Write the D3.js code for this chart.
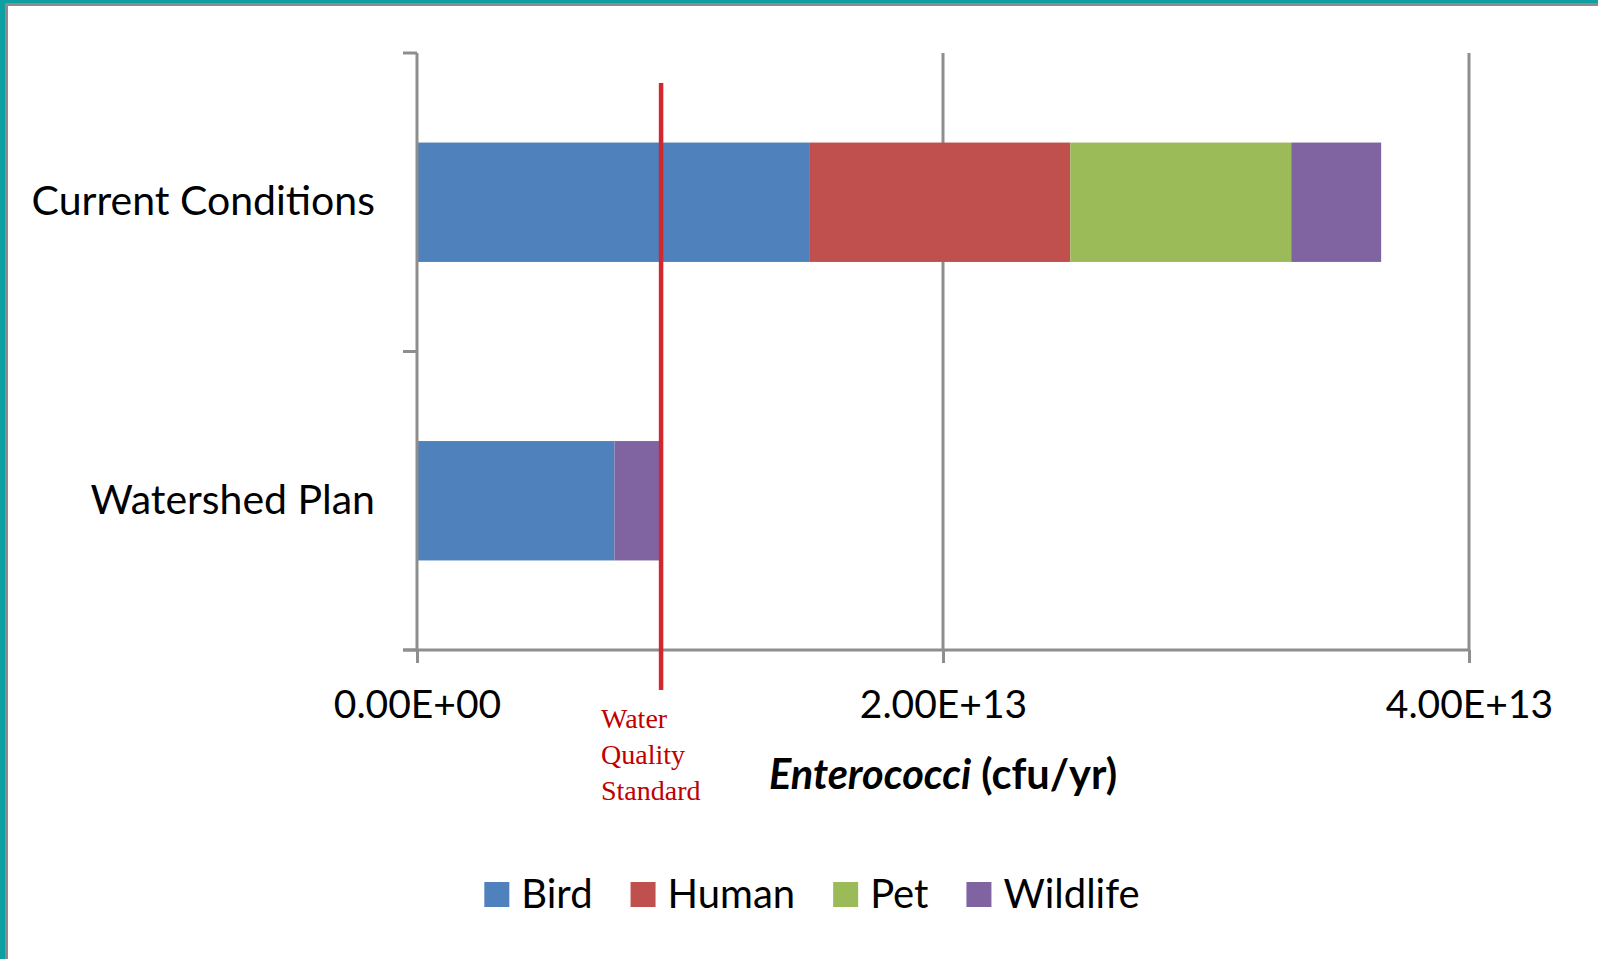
<!DOCTYPE html>
<html><head><meta charset="utf-8">
<script src="https://cdn.jsdelivr.net/npm/d3@7"></script>
<style>body{margin:0;background:#fff}svg{display:block}</style>
</head><body>
<script>
const categories = ["Current Conditions", "Watershed Plan"];
const seriesNames = ["Bird", "Human", "Pet", "Wildlife"];
const bird = [1.494e13, 0.751e13];
const human = [0.99e13, 0];
const pet = [0.84e13, 0];
const wildlife = [0.342e13, 0.173e13];
const xTicks = [0, 2e13, 4e13];
const xTickLabels = ["0.00E+00", "2.00E+13", "4.00E+13"];
const standardValue = 0.928e13;
const standardLabel = ["Water", "Quality", "Standard"];
const colors = ["#4F81BD", "#C0504D", "#9BBB59", "#8064A2"];

const W = 1598, H = 959;
const svg = d3.select("body").append("svg").attr("width", W).attr("height", H);
const font = "Lato, 'Open Sans', sans-serif";

// frame
svg.append("rect").attr("x",0).attr("y",0).attr("width",W).attr("height",3).attr("fill","#0E9FA2");
svg.append("rect").attr("x",0).attr("y",3).attr("width",W).attr("height",3).attr("fill","#8C8C8C");
svg.append("rect").attr("x",0).attr("y",0).attr("width",5).attr("height",H).attr("fill","#0E9FA2");
svg.append("rect").attr("x",5).attr("y",3).attr("width",3).attr("height",H).attr("fill","#8C8C8C");

const x = d3.scaleLinear().domain([0, 4e13]).range([417, 1469]);
const y = d3.scaleBand().domain(categories).range([53, 650]).paddingInner(0.6).paddingOuter(0.3);
const gray = "#8E8E8E";

// gridlines
svg.append("g").selectAll("line").data(xTicks.slice(1)).join("line")
  .attr("x1", d => x(d)).attr("x2", d => x(d)).attr("y1", 53).attr("y2", 650)
  .attr("stroke", gray).attr("stroke-width", 3);

// stacked bars
const rows = categories.map((c, i) => ({cat: c, Bird: bird[i], Human: human[i], Pet: pet[i], Wildlife: wildlife[i]}));
const stack = d3.stack().keys(seriesNames)(rows);
svg.append("g").selectAll("g").data(stack).join("g")
  .attr("fill", (d, i) => colors[i])
  .selectAll("rect").data(d => d.filter(p => p[1] > p[0])).join("rect")
  .attr("x", d => x(d[0])).attr("width", d => x(d[1]) - x(d[0]))
  .attr("y", d => y(d.data.cat)).attr("height", y.bandwidth());

// y axis
const step = y.step();
const y0 = y.range()[0];
const yTickPos = d3.range(categories.length + 1).map(i => y0 + i * step);
svg.append("line").attr("x1", x(0)).attr("x2", x(0)).attr("y1", 53).attr("y2", 650)
  .attr("stroke", gray).attr("stroke-width", 3);
svg.append("g").selectAll("line").data(yTickPos).join("line")
  .attr("x1", 403).attr("x2", x(0)).attr("y1", d => d).attr("y2", d => d)
  .attr("stroke", gray).attr("stroke-width", 3);
svg.append("g").selectAll("text").data(categories).join("text")
  .attr("x", 375).attr("y", d => y(d) + y.bandwidth() / 2 + 13)
  .attr("text-anchor", "end").attr("font-family", font).attr("font-size", 41)
  .attr("fill", "#000").text(d => d);

// x axis
const xAxis = d3.axisBottom(x).tickValues(xTicks).tickSize(13).tickPadding(16)
  .tickFormat((d, i) => xTickLabels[i]);
const gx = svg.append("g").attr("transform", "translate(0,650)").call(xAxis);
gx.select(".domain").attr("d", `M403,0H${x(4e13)}`).attr("stroke", gray).attr("stroke-width", 3);
gx.selectAll(".tick line").attr("stroke", gray).attr("stroke-width", 3);
gx.selectAll(".tick text").attr("font-family", font).attr("font-size", 39).attr("fill", "#000")
  .attr("dy", null).attr("y", 68);

// axis title
const title = svg.append("text").attr("x", x(2e13)).attr("y", 789).attr("text-anchor", "middle")
  .attr("font-family", font).attr("font-size", 41.5).attr("font-weight", "bold").attr("fill", "#000");
title.append("tspan").attr("font-style", "italic").text("Enterococci");
title.append("tspan").text(" (cfu/yr)");

// standard line
svg.append("line").attr("x1", x(standardValue)).attr("x2", x(standardValue))
  .attr("y1", 83).attr("y2", 690).attr("stroke", "#D0282E").attr("stroke-width", 4.5);
svg.append("g").selectAll("text").data(standardLabel).join("text")
  .attr("x", 601).attr("y", (d, i) => 728 + i * 36)
  .attr("font-family", "'Liberation Serif', 'Times New Roman', serif").attr("font-size", 28)
  .attr("fill", "#C00000").text(d => d);

// legend
const lg = svg.append("g");
const items = lg.selectAll("g").data(seriesNames).join("g");
items.append("rect").attr("width", 25).attr("height", 25).attr("y", 882).attr("fill", (d, i) => colors[i]);
items.append("text").attr("x", 37).attr("y", 908).attr("font-family", font).attr("font-size", 40)
  .attr("fill", "#000").text(d => d);
let cx = 0;
items.each(function() {
  const w = this.querySelector("text").getComputedTextLength() + 37;
  d3.select(this).attr("transform", `translate(${cx},0)`);
  cx += w + 38;
});
const totalW = cx - 38;
lg.attr("transform", `translate(${485 + ((1139 - 485) - totalW) / 2},0)`);
</script>
</body></html>
